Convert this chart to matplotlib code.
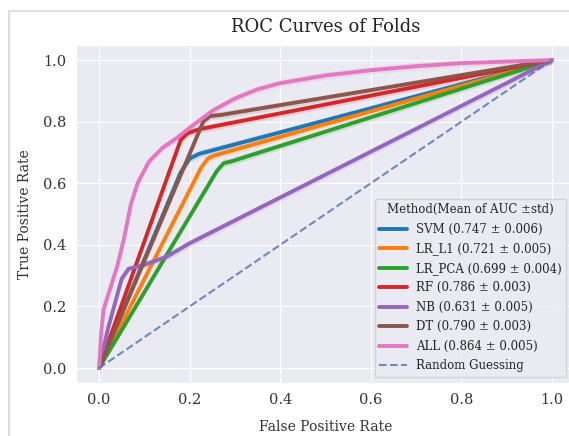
#!/usr/bin/env python3
import matplotlib
matplotlib.use('Agg')
import matplotlib.pyplot as plt
import numpy as np
import seaborn as sns
from matplotlib.lines import Line2D

# mean ROC curves (fpr, tpr)
svm_fpr = [0.0, 0.18, 0.20, 0.22, 1.0]
svm_tpr = [0.0, 0.635, 0.68, 0.695, 1.0]
lr_l1_fpr = [0.0, 0.225, 0.24, 0.255, 1.0]
lr_l1_tpr = [0.0, 0.65, 0.68, 0.69, 1.0]
lr_pca_fpr = [0.0, 0.26, 0.275, 0.29, 1.0]
lr_pca_tpr = [0.0, 0.64, 0.665, 0.67, 1.0]
rf_fpr = [0.0, 0.18, 0.195, 0.22, 1.0]
rf_tpr = [0.0, 0.74, 0.762, 0.775, 1.0]
nb_fpr = [0.0, 0.02, 0.05, 0.065, 0.10, 0.15, 0.20, 1.0]
nb_tpr = [0.0, 0.13, 0.29, 0.322, 0.335, 0.362, 0.405, 1.0]
dt_fpr = [0.0, 0.23, 0.245, 0.27, 1.0]
dt_tpr = [0.0, 0.80, 0.818, 0.822, 1.0]
all_fpr = [0.0, 0.005, 0.01, 0.025, 0.04, 0.055, 0.07, 0.085, 0.11, 0.14,
           0.17, 0.2, 0.25, 0.3, 0.35, 0.4, 0.5, 0.6, 0.7, 0.8, 0.9, 1.0]
all_tpr = [0.0, 0.12, 0.19, 0.26, 0.33, 0.42, 0.53, 0.60, 0.67, 0.715,
           0.745, 0.78, 0.835, 0.875, 0.905, 0.925, 0.95, 0.967, 0.98, 0.99, 0.995, 1.0]

methods = ['SVM', 'LR_L1', 'LR_PCA', 'RF', 'NB', 'DT', 'ALL']
auc_mean = [0.747, 0.721, 0.699, 0.786, 0.631, 0.790, 0.864]
auc_std = [0.006, 0.005, 0.004, 0.003, 0.005, 0.003, 0.005]
curves = [(svm_fpr, svm_tpr), (lr_l1_fpr, lr_l1_tpr), (lr_pca_fpr, lr_pca_tpr),
          (rf_fpr, rf_tpr), (nb_fpr, nb_tpr), (dt_fpr, dt_tpr), (all_fpr, all_tpr)]
colors = ['#1f77b4', '#ff7f0e', '#2ca02c', '#d62728', '#9467bd', '#8c564b', '#e377c2']

sns.set_style('darkgrid')
plt.rcParams['font.family'] = ['DejaVu Serif']

fig = plt.figure(figsize=(5.69, 4.36), dpi=100)
ax = fig.add_axes([0.1343, 0.1206, 0.8757, 0.777])

for (fpr, tpr), name, m, s, c in zip(curves, methods, auc_mean, auc_std, colors):
    fpr = np.array(fpr)
    tpr = np.array(tpr)
    ax.fill_between(fpr, np.clip(tpr - 0.012, 0, 1), np.clip(tpr + 0.012, 0, 1),
                    color=c, alpha=0.15, lw=0)
    ax.plot(fpr, tpr, color=c, lw=2.8, label=f'{name} ({m:.3f} ± {s:.3f})')

ax.plot([0, 1], [0, 1], linestyle='--', lw=1.5, color='#4c72b0', alpha=0.8,
        label='Random Guessing')

ax.set_xlim(-0.05, 1.05)
ax.set_ylim(-0.05, 1.05)
ax.set_xticks([0, 0.2, 0.4, 0.6, 0.8, 1.0])
ax.set_yticks([0, 0.2, 0.4, 0.6, 0.8, 1.0])
ax.tick_params(labelsize=10.5, colors='#333333')
ax.set_title('ROC Curves of Folds', fontsize=13, color='#222222', pad=9)
ax.set_xlabel('False Positive Rate', fontsize=10, color='#333333', labelpad=9)
ax.set_ylabel('True Positive Rate', fontsize=10, color='#333333', labelpad=8)

leg = ax.legend(loc='lower right', title='Method(Mean of AUC ±std)',
                fontsize=8.5, title_fontsize=8.5, frameon=True, borderaxespad=0.4,
                handlelength=2.3, labelspacing=0.55, bbox_to_anchor=(0.993, 0.005))

# light frame of the screenshot
fig.add_artist(Line2D([9 / 569, 9 / 569], [0, 1 - 11 / 436], color='#dddddd', lw=1.5,
                      transform=fig.transFigure))
fig.add_artist(Line2D([9 / 569, 1], [1 - 11 / 436, 1 - 11 / 436], color='#dddddd', lw=1.5,
                      transform=fig.transFigure))

fig.savefig('out.png', dpi=100)
